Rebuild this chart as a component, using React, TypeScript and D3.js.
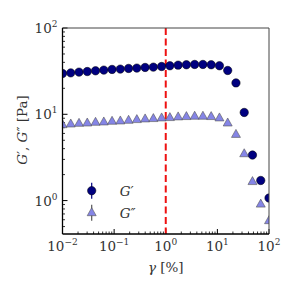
import React from 'react';
import * as d3 from 'd3';

// strain sweep, logspace(-2, 2, 26)
const strain = d3.range(26).map((i) => Math.pow(10, -2 + (i * 4) / 25));
const gPrime = [29.7, 30.2, 30.8, 31.3, 31.9, 32.5, 33.1, 33.4, 34.0, 34.3, 34.9, 35.2, 35.8, 36.5, 37.1, 37.5, 37.8, 37.8, 37.5, 36.5, 32.2, 23.1, 10.5, 3.37, 1.71, 1.07];
const gDouble = [7.58, 7.72, 7.86, 7.93, 8.08, 8.15, 8.3, 8.37, 8.52, 8.68, 8.84, 8.92, 9.08, 9.16, 9.33, 9.41, 9.5, 9.5, 9.41, 9.08, 7.93, 5.85, 3.49, 1.66, 0.91, 0.585];
const xTicks = [-2, -1, 0, 1, 2];
const yTicks = [0, 1, 2];
const criticalStrain = 1;

const W = 296;
const H = 296;
const margin = { top: 28, right: 27, bottom: 62, left: 62.5 };
const txt = { fontFamily: "'DejaVu Serif', serif", fontSize: '13.5px', fill: '#333' };
const sup = { fontSize: '9px' };

const tri = (cx: number, cy: number, s: number) =>
  `M${cx},${cy - s} L${cx + s * 0.9},${cy + s * 0.6} L${cx - s * 0.9},${cy + s * 0.6} Z`;

export default function App() {
  const iw = W - margin.left - margin.right;
  const ih = H - margin.top - margin.bottom;
  const x = d3.scaleLog().domain([0.01, 100]).range([0, iw]);
  const y = d3.scaleLog().domain([0.41, 100]).range([ih, 0]);

  const minorX: number[] = [];
  for (let e = -2; e < 2; e++) for (let k = 2; k < 10; k++) minorX.push(k * Math.pow(10, e));
  const minorY: number[] = [];
  for (let e = -1; e < 2; e++) for (let k = 2; k < 10; k++) {
    const v = k * Math.pow(10, e);
    if (v >= 0.41 && v <= 100) minorY.push(v);
  }

  return (
    <svg width={W} height={H} style={{ position: 'absolute', left: 0, top: 0, background: '#fff' }}>
      <defs>
        <clipPath id="plot">
          <rect x={0} y={0} width={iw} height={ih} />
        </clipPath>
      </defs>
      <g transform={`translate(${margin.left},${margin.top})`}>
        {/* ticks */}
        {xTicks.map((e) => (
          <line key={'xt' + e} x1={x(Math.pow(10, e))} x2={x(Math.pow(10, e))} y1={ih} y2={ih - 5} stroke="#000" strokeWidth={1} />
        ))}
        {minorX.map((v, i) => (
          <line key={'xm' + i} x1={x(v)} x2={x(v)} y1={ih} y2={ih - 2.5} stroke="#000" strokeWidth={0.8} />
        ))}
        {yTicks.map((e) => (
          <line key={'yt' + e} x1={0} x2={5} y1={y(Math.pow(10, e))} y2={y(Math.pow(10, e))} stroke="#000" strokeWidth={1} />
        ))}
        {minorY.map((v, i) => (
          <line key={'ym' + i} x1={0} x2={2.5} y1={y(v)} y2={y(v)} stroke="#000" strokeWidth={0.8} />
        ))}

        <g clipPath="url(#plot)">
          <line x1={x(criticalStrain)} x2={x(criticalStrain)} y1={0} y2={ih} stroke="#ee1111" strokeWidth={2} strokeDasharray="7,3.5" />
          {strain.map((s, i) => (
            <path key={'t' + i} d={tri(x(s), y(gDouble[i]), 5)} fill="#8585e6" stroke="#555" strokeWidth={0.6} />
          ))}
          {strain.map((s, i) => (
            <circle key={'c' + i} cx={x(s)} cy={y(gPrime[i])} r={4.2} fill="#000080" stroke="#000" strokeWidth={0.5} />
          ))}
        </g>

        {/* spines */}
        <line x1={0} x2={iw} y1={0} y2={0} stroke="#444" strokeWidth={1} />
        <line x1={iw} x2={iw} y1={0} y2={ih} stroke="#444" strokeWidth={1} />
        <line x1={0} x2={0} y1={0} y2={ih} stroke="#000" strokeWidth={1.3} />
        <line x1={0} x2={iw} y1={ih} y2={ih} stroke="#000" strokeWidth={1.3} />

        {/* tick labels */}
        {xTicks.map((e) => (
          <text key={'xl' + e} x={x(Math.pow(10, e))} y={ih + 17} textAnchor="middle" style={txt}>
            10<tspan dy={-6} style={sup}>{e < 0 ? '\u2212' + Math.abs(e) : e}</tspan>
          </text>
        ))}
        {yTicks.map((e) => (
          <text key={'yl' + e} x={-5} y={y(Math.pow(10, e)) + 5} textAnchor="end" style={txt}>
            10<tspan dy={-6} style={sup}>{e}</tspan>
          </text>
        ))}

        {/* axis labels */}
        <text x={iw / 2} y={ih + 38} textAnchor="middle" style={txt}>
          <tspan fontStyle="italic">γ</tspan> [%]
        </text>
        <text transform={`translate(${-36},${ih / 2 - 1}) rotate(-90)`} textAnchor="middle" style={txt}>
          <tspan fontStyle="italic">G</tspan>′, <tspan fontStyle="italic">G</tspan>″ [Pa]
        </text>

        {/* legend */}
        <g transform={`translate(${91.7 - margin.left},${190.7 - margin.top})`}>
          <line x1={0} x2={0} y1={-8} y2={8} stroke="#000080" strokeWidth={1.2} />
          <circle cx={0} cy={0} r={4.2} fill="#000080" stroke="#000" strokeWidth={0.5} />
          <text x={28} y={5} style={txt} fontStyle="italic">G′</text>
          <line x1={0} x2={0} y1={14} y2={30} stroke="#555" strokeWidth={1.2} />
          <path d={tri(0, 22, 5)} fill="#8585e6" stroke="#555" strokeWidth={0.6} />
          <text x={28} y={27.5} style={txt} fontStyle="italic">G″</text>
        </g>
      </g>
    </svg>
  );
}
